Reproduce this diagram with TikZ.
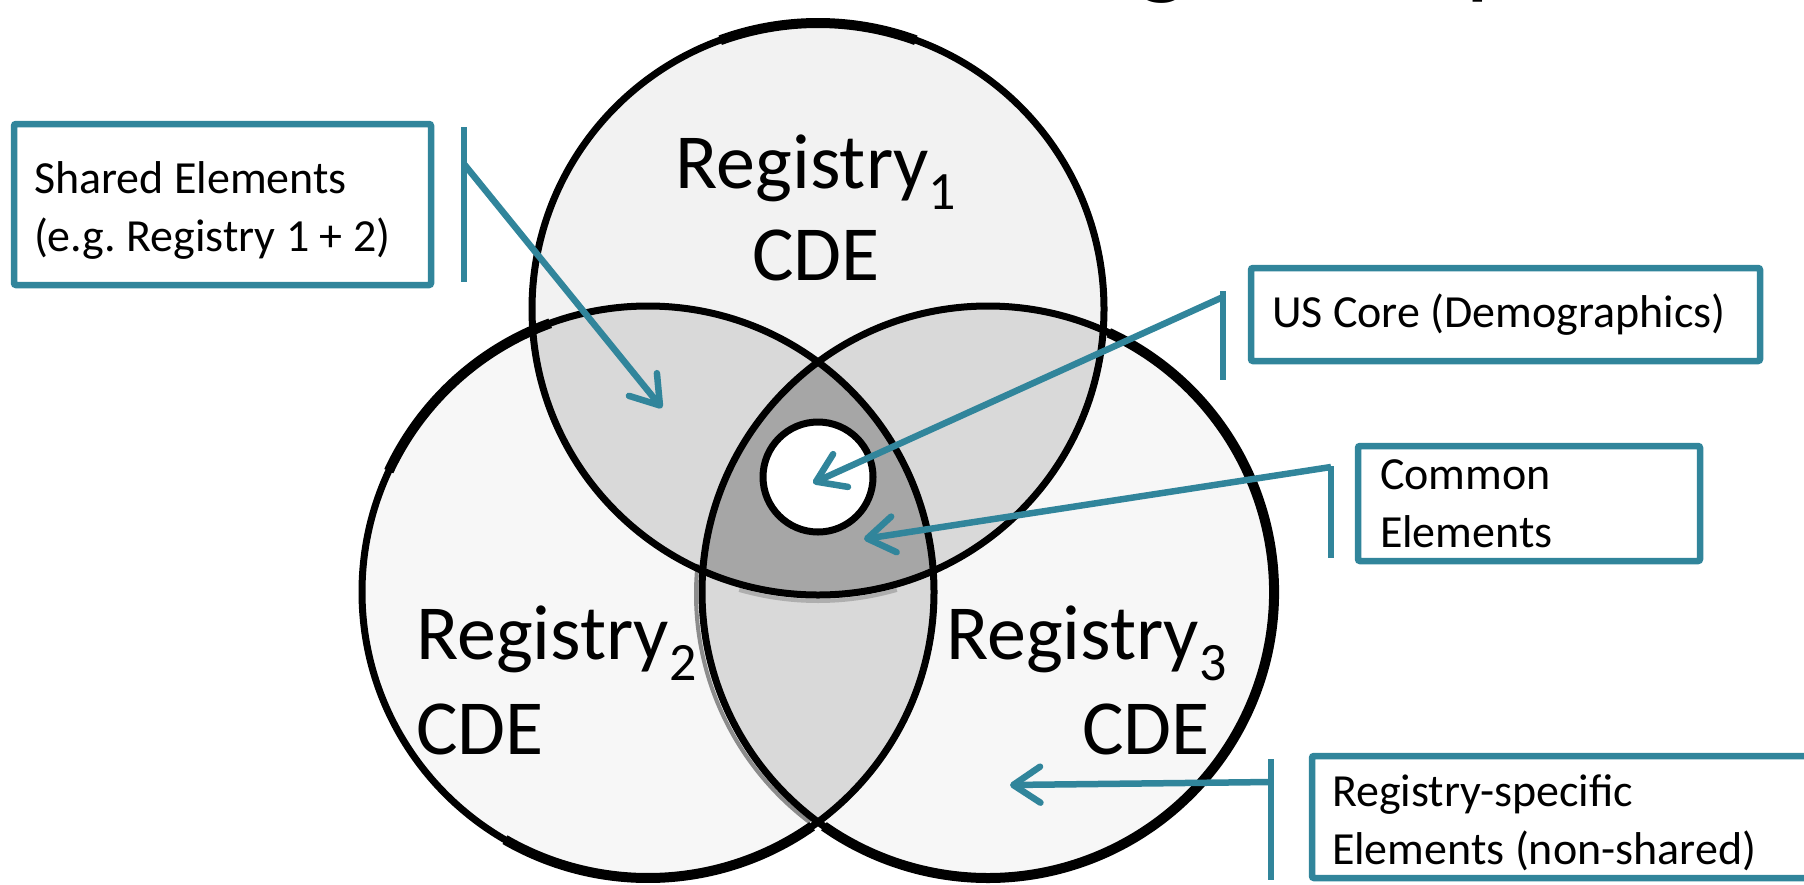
\documentclass[tikz,border=0pt]{standalone}
\usepackage{fontspec}
\setmainfont{Carlito}
\usetikzlibrary{arrows.meta}

\definecolor{accent}{RGB}{49,133,155}
\definecolor{soleone}{HTML}{F2F2F2}
\definecolor{soleother}{HTML}{F7F7F7}
\definecolor{pairfill}{HTML}{D9D9D9}
\definecolor{triplefill}{HTML}{A6A6A6}
\definecolor{shadowgray}{HTML}{8C8C8C}

\newcommand\labelfont{\fontsize{78}{94}\selectfont}
\newcommand\calloutfont{\fontsize{46}{58}\selectfont}
\newcommand\regsub[1]{\raisebox{-0.27em}{\fontsize{54}{54}\selectfont #1}}
\newcommand\firstline{\rule{0pt}{44pt}}

\begin{document}
\begin{tikzpicture}[x=1pt,y=-1pt,
  ring/.style={draw=black,line width=7pt},
  heavyring/.style={draw=black,line width=10pt},
  callout/.style={draw=accent,line width=6.5pt,fill=white,rectangle,
    rounded corners=2pt,font=\calloutfont,align=left,inner ysep=0pt,inner xsep=20pt,
    execute at begin node={\frenchspacing\spaceskip=0pt \xspaceskip=0pt }},
  accentbar/.style={draw=accent,line width=6.5pt},
  pointer/.style={draw=accent,line width=6.5pt,
    -{Straight Barb[length=27pt,width=36pt,round]}},
  biglabel/.style={font=\labelfont,inner sep=0pt},
  titletext/.style={font=\fontsize{110}{110}\selectfont,inner sep=0pt},
]
\useasboundingbox (0,0) rectangle (1804,884);
\clip (0,0) rectangle (1804,884);

% circle centres and common radius
\coordinate (c1) at (818,309);
\coordinate (c2) at (648,592);
\coordinate (c3) at (988,592);
\def\R{286}

% title, cut by the top edge: only the descenders reach into the picture
\begin{scope}
  \clip (1100,0) rectangle (1520,9);
  \node[titletext,anchor=base] (titleg) at (1162,-16) {g};
  \node[titletext,anchor=base west] (titlep) at (1465,-16) {p};
\end{scope}

% single-set regions
\fill[soleone] (c1) circle (\R);
\fill[soleother] (c2) circle (\R);
\fill[soleother] (c3) circle (\R);

% pairwise overlaps
\begin{scope}
  \clip (c1) circle (\R);
  \fill[pairfill] (c2) circle (\R);
  \fill[pairfill] (c3) circle (\R);
\end{scope}
\begin{scope}
  \clip (c2) circle (\R);
  \fill[pairfill] (c3) circle (\R);
\end{scope}

% triple overlap
\begin{scope}
  \clip (c1) circle (\R);
  \clip (c2) circle (\R);
  \fill[triplefill] (c3) circle (\R);
\end{scope}

% soft shadows along the lower lens
\draw[shadowgray,line width=4pt] ([shift={(-6,2)}]c3) ++(186:\R) arc[start angle=186,end angle=127,radius=\R];
\draw[shadowgray!70,line width=4pt] ([shift={(0,6)}]c1) ++(106:\R) arc[start angle=106,end angle=74,radius=\R];

% outlines
\draw[ring] (c1) circle (\R);
\draw[ring] (c2) circle (\R);
\draw[ring] (c3) circle (\R);
\draw[heavyring] (c3) ++(-65:\R) arc[start angle=-65,end angle=125,radius=\R];
\draw[heavyring] (c2) ++(55:\R) arc[start angle=55,end angle=120,radius=\R];
\draw[heavyring] (c2) ++(205:\R) arc[start angle=205,end angle=250,radius=\R];
\draw[heavyring] (c1) ++(250:\R) arc[start angle=250,end angle=290,radius=\R];

% core set in the middle
\node[circle,draw=black,line width=7pt,fill=white,minimum size=110pt,inner sep=0pt] (core) at (818,477) {};

% set labels
\node[biglabel,anchor=base] (reg1) at (816,188) {Registry\regsub{1}};
\node[biglabel,anchor=base] (cde1) at (816,280) {CDE};
\node[biglabel,anchor=base west] (reg2) at (416,659) {Registry\regsub{2}};
\node[biglabel,anchor=base west] (cde2) at (416,754) {CDE};
\node[biglabel,anchor=base west] (reg3) at (946,659) {Registry\regsub{3}};
\node[biglabel,anchor=base east] (cde3) at (1210,754) {CDE};

% callouts
\node[callout,minimum width=417pt,minimum height=161pt,text width=377pt] (shared) at (222.5,204.5)
  {\firstline Shared Elements\\(e.g. Registry 1 + 2)};
\node[callout,minimum width=509pt,minimum height=93pt,text width=467pt] (uscore) at (1505.5,314.5)
  {US Core (Demographics)};
\node[callout,minimum width=342pt,minimum height=115pt,text width=298pt] (common) at (1529,503.5)
  {Common\\Elements};
\node[callout,minimum width=518pt,minimum height=122pt,text width=478pt] (specific) at (1571,817)
  {\firstline Registry-specific\\Elements (non-shared)};

% accent bars beside the callouts
\draw[accentbar] (464,127) -- (464,282);
\draw[accentbar] (1223,291) -- (1223,380);
\draw[accentbar] (1331,466) -- (1331,558);
\draw[accentbar] (1271,759) -- (1271,880);

% pointer ends
\coordinate (sA) at (464,164);
\coordinate (tA) at (662,408);
\coordinate (sB) at (1223,297);
\coordinate (tB) at (813,483);
\coordinate (sC) at (1331,467);
\coordinate (tC) at (864,539);
\coordinate (sD) at (1271,782);
\coordinate (tD) at (1010,785);

\draw[pointer] (sA) -- (tA);
\draw[pointer] (sB) -- (tB);
\draw[pointer] (sC) -- (tC);
\draw[pointer] (sD) -- (tD);
\end{tikzpicture}
\end{document}
